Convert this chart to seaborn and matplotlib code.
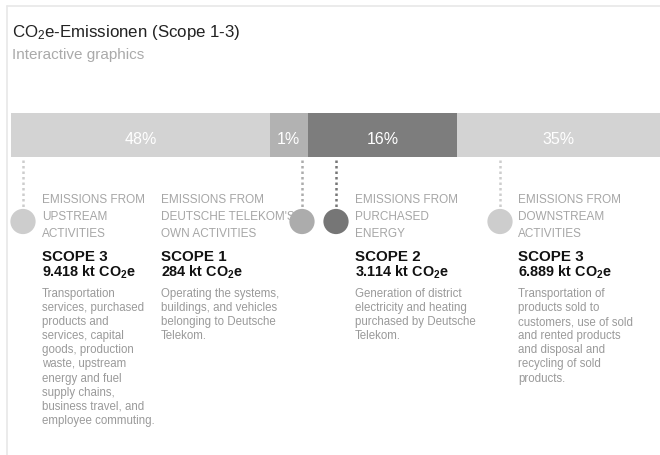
import numpy as np
import matplotlib
matplotlib.use("Agg")
import matplotlib.pyplot as plt
import seaborn as sns

# --- data -------------------------------------------------------------
shares = [48, 1, 16, 35]                      # share of total CO2e, in %
scopes = ["SCOPE 3", "SCOPE 1", "SCOPE 2", "SCOPE 3"]
emissions_kt = ["9.418", "284", "3.114", "6.889"]
sources = [
    ["EMISSIONS FROM", "UPSTREAM", "ACTIVITIES"],
    ["EMISSIONS FROM", "DEUTSCHE TELEKOM'S", "OWN ACTIVITIES"],
    ["EMISSIONS FROM", "PURCHASED", "ENERGY"],
    ["EMISSIONS FROM", "DOWNSTREAM", "ACTIVITIES"],
]
descriptions = [
    ["Transportation", "services, purchased", "products and",
     "services, capital", "goods, production", "waste, upstream",
     "energy and fuel", "supply chains,", "business travel, and",
     "employee commuting."],
    ["Operating the systems,", "buildings, and vehicles",
     "belonging to Deutsche", "Telekom."],
    ["Generation of district", "electricity and heating",
     "purchased by Deutsche", "Telekom."],
    ["Transportation of", "products sold to", "customers, use of sold",
     "and rented products", "and disposal and", "recycling of sold",
     "products."],
]

# --- styling ----------------------------------------------------------
sns.set_theme(style="white")
plt.rcParams["font.family"] = ["Liberation Sans", "DejaVu Sans"]
plt.rcParams["mathtext.fontset"] = "custom"
plt.rcParams["mathtext.rm"] = "Liberation Sans"
plt.rcParams["mathtext.it"] = "Liberation Sans:italic"
plt.rcParams["mathtext.bf"] = "Liberation Sans:bold"

bar_colors = ["#d3d3d3", "#b2b2b2", "#7d7d7d", "#d3d3d3"]
dot_colors = ["#cdcdcd", "#acacac", "#767676", "#cdcdcd"]
W, H = 660, 455

fig = plt.figure(figsize=(W / 100, H / 100), dpi=100)
fig.patch.set_facecolor("white")

# --- stacked share bar (segment length ~ sqrt of share) ---------------
bar_left, bar_top, bar_bottom = 11, 113, 157
ax = fig.add_axes([bar_left / W, 1 - bar_bottom / H,
                   (W - bar_left) / W, (bar_bottom - bar_top) / H])
seg_len = np.sqrt(shares)
ends = np.cumsum(seg_len)
starts = ends - seg_len
px_per_unit = 37.4
xmax = (W - bar_left) / px_per_unit

for end, col in reversed(list(zip(ends, bar_colors))):
    sns.barplot(x=[end], y=["mix"], orient="h", color=col, saturation=1,
                width=1.0, linewidth=0, ax=ax)
ax.set_xlim(0, xmax)
ax.set_ylim(0.5, -0.5)
ax.axis("off")

for s, e, pct in zip(starts, ends, shares):
    cx = (s + min(e, xmax)) / 2
    ax.text(cx, 0.2, f"{pct}%", ha="center", va="baseline",
            color="white", fontsize=11.5)

# --- overlay in pixel coordinates for frame, connectors and captions ---
ov = fig.add_axes([0, 0, 1, 1], zorder=3)
ov.set_xlim(0, W)
ov.set_ylim(H, 0)
ov.axis("off")
ov.patch.set_alpha(0)

# light frame on top and left
ov.plot([7, W], [5.5, 5.5], color="#e8e8e8", lw=1.2)
ov.plot([7, 7], [5.5, H], color="#e8e8e8", lw=1.2)

# titles
ov.text(12, 37, "CO$_2$e-Emissionen (Scope 1-3)", fontsize=12.2,
        color="#222222", va="baseline")
ov.text(12, 59, "Interactive graphics", fontsize=11, color="#aaaaaa",
        va="baseline")

# captions
col_x = [42, 161, 355, 518]
conn_x = [23, 302, 336, 500]
circle_y = 221.5

for i in range(4):
    x = col_x[i]
    for j, line in enumerate(sources[i]):
        ov.text(x, 203 + 17 * j, line, fontsize=8.5, color="#a6a6a6",
                va="baseline", zorder=2)
    ov.text(x, 261, scopes[i], fontsize=10.9, fontweight="bold",
            color="#111111", va="baseline", zorder=2)
    ov.text(x, 277, emissions_kt[i] + r" kt CO$_\mathbf{2}$e",
            fontsize=10.4, fontweight="bold", color="#111111",
            va="baseline", zorder=2)
    for j, line in enumerate(descriptions[i]):
        ov.text(x, 297 + 14.1 * j, line, fontsize=8.3, color="#9a9a9a",
                va="baseline", zorder=2)

    # dotted connector from bar to marker
    ov.plot([conn_x[i], conn_x[i]], [160, 208], color=dot_colors[i],
            lw=1.8, linestyle=(0, (1, 1.2)), zorder=3)

sns.scatterplot(x=conn_x, y=[circle_y] * 4, hue=list(range(4)),
                palette=dot_colors, s=330, linewidth=0, legend=False,
                ax=ov, zorder=4)
ov.set_xlim(0, W)
ov.set_ylim(H, 0)
ov.axis("off")

fig.savefig("out.png", dpi=100, facecolor="white")
